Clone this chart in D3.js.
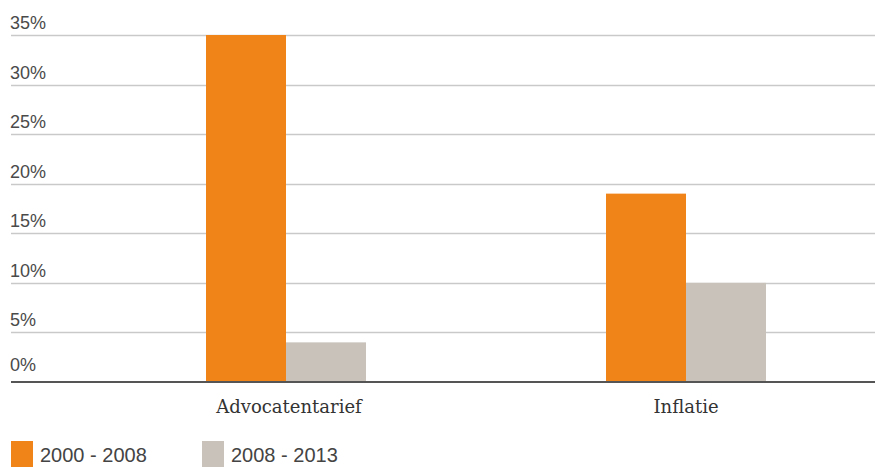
<!DOCTYPE html>
<html>
<head>
<meta charset="utf-8">
<script src="https://cdn.jsdelivr.net/npm/d3@7"></script>
<style>
  html, body { margin: 0; padding: 0; background: #fff; }
  svg { display: block; }
  .tick-label { font-family: "Liberation Sans", Arial, sans-serif; font-size: 18px; fill: #4a4a4a; }
  .cat-label { font-family: "DejaVu Serif", serif; font-size: 18px; fill: #333; }
  .legend-label { font-family: "Liberation Sans", Arial, sans-serif; font-size: 20px; fill: #444; }
</style>
</head>
<body>
<div id="chart"></div>
<script>
// Data
var categories = ["Advocatentarief", "Inflatie"];
var seriesNames = ["2000 - 2008", "2008 - 2013"];
var values2000 = [35, 19];
var values2008 = [4, 10];
var yTicks = [0, 5, 10, 15, 20, 25, 30, 35];

var colors = ["#f08419", "#c8c2bb"];

// Setup
var width = 875,
    height = 467;

var left = 11,
    right = 875,
    baseY = 382,
    topY = 35;

var svg = d3.select("#chart").append("svg")
    .attr("width", width)
    .attr("height", height);

var scaleY = d3.scaleLinear()
    .domain([0, 35])
    .range([baseY, topY]);

var scaleX = d3.scaleBand()
    .domain(categories)
    .range([86, 886])
    .paddingInner(0.6)
    .paddingOuter(0.3);

var scaleSeries = d3.scaleBand()
    .domain(seriesNames)
    .range([0, scaleX.bandwidth()]);

// gridlines
svg.selectAll("line.grid")
    .data(yTicks.filter(function(d) { return d > 0; }))
    .enter().append("line")
    .attr("class", "grid")
    .attr("x1", left)
    .attr("x2", right)
    .attr("y1", function(d) { return Math.round(scaleY(d)) + 0.5; })
    .attr("y2", function(d) { return Math.round(scaleY(d)) + 0.5; })
    .attr("stroke", "#c9c9c9")
    .attr("stroke-width", 1.3);

// tick labels
svg.selectAll("text.tick-label")
    .data(yTicks)
    .enter().append("text")
    .attr("class", "tick-label")
    .attr("x", left - 1)
    .attr("y", function(d) { return scaleY(d) - (d === 0 ? 11 : 6); })
    .text(function(d) { return d + "%"; });

// bars
var rows = categories.map(function(c, i) {
    return [
        {cat: c, series: seriesNames[0], value: values2000[i], color: colors[0]},
        {cat: c, series: seriesNames[1], value: values2008[i], color: colors[1]}
    ];
});

var groups = svg.selectAll("g.group")
    .data(rows)
    .enter().append("g")
    .attr("class", "group")
    .attr("transform", function(d, i) {
        return "translate(" + scaleX(categories[i]) + ",0)";
    });

groups.selectAll("rect")
    .data(function(d) { return d; })
    .enter().append("rect")
    .attr("x", function(d) { return scaleSeries(d.series); })
    .attr("width", scaleSeries.bandwidth())
    .attr("y", function(d) { return scaleY(d.value); })
    .attr("height", function(d) { return baseY - scaleY(d.value); })
    .attr("fill", function(d) { return d.color; });

// baseline
svg.append("line")
    .attr("x1", left)
    .attr("x2", right)
    .attr("y1", baseY)
    .attr("y2", baseY)
    .attr("stroke", "#555")
    .attr("stroke-width", 2);

// category labels
svg.selectAll("text.cat-label")
    .data(categories)
    .enter().append("text")
    .attr("class", "cat-label")
    .attr("x", function(d) { return scaleX(d) + scaleX.bandwidth() / 2 + (d === "Advocatentarief" ? 3 : 0); })
    .attr("y", 413)
    .attr("text-anchor", "middle")
    .text(function(d) { return d; });

// legend (kept just inside the bottom edge)
var legendX = [11, 202];
var legend = svg.selectAll("g.legend")
    .data(seriesNames)
    .enter().append("g")
    .attr("class", "legend")
    .attr("transform", function(d, i) { return "translate(" + legendX[i] + ",441)"; });

legend.append("rect")
    .attr("width", 22)
    .attr("height", 30)
    .attr("fill", function(d, i) { return colors[i]; });

legend.append("text")
    .attr("class", "legend-label")
    .attr("x", 29)
    .attr("y", 21)
    .text(function(d) { return d; });
</script>
</body>
</html>
